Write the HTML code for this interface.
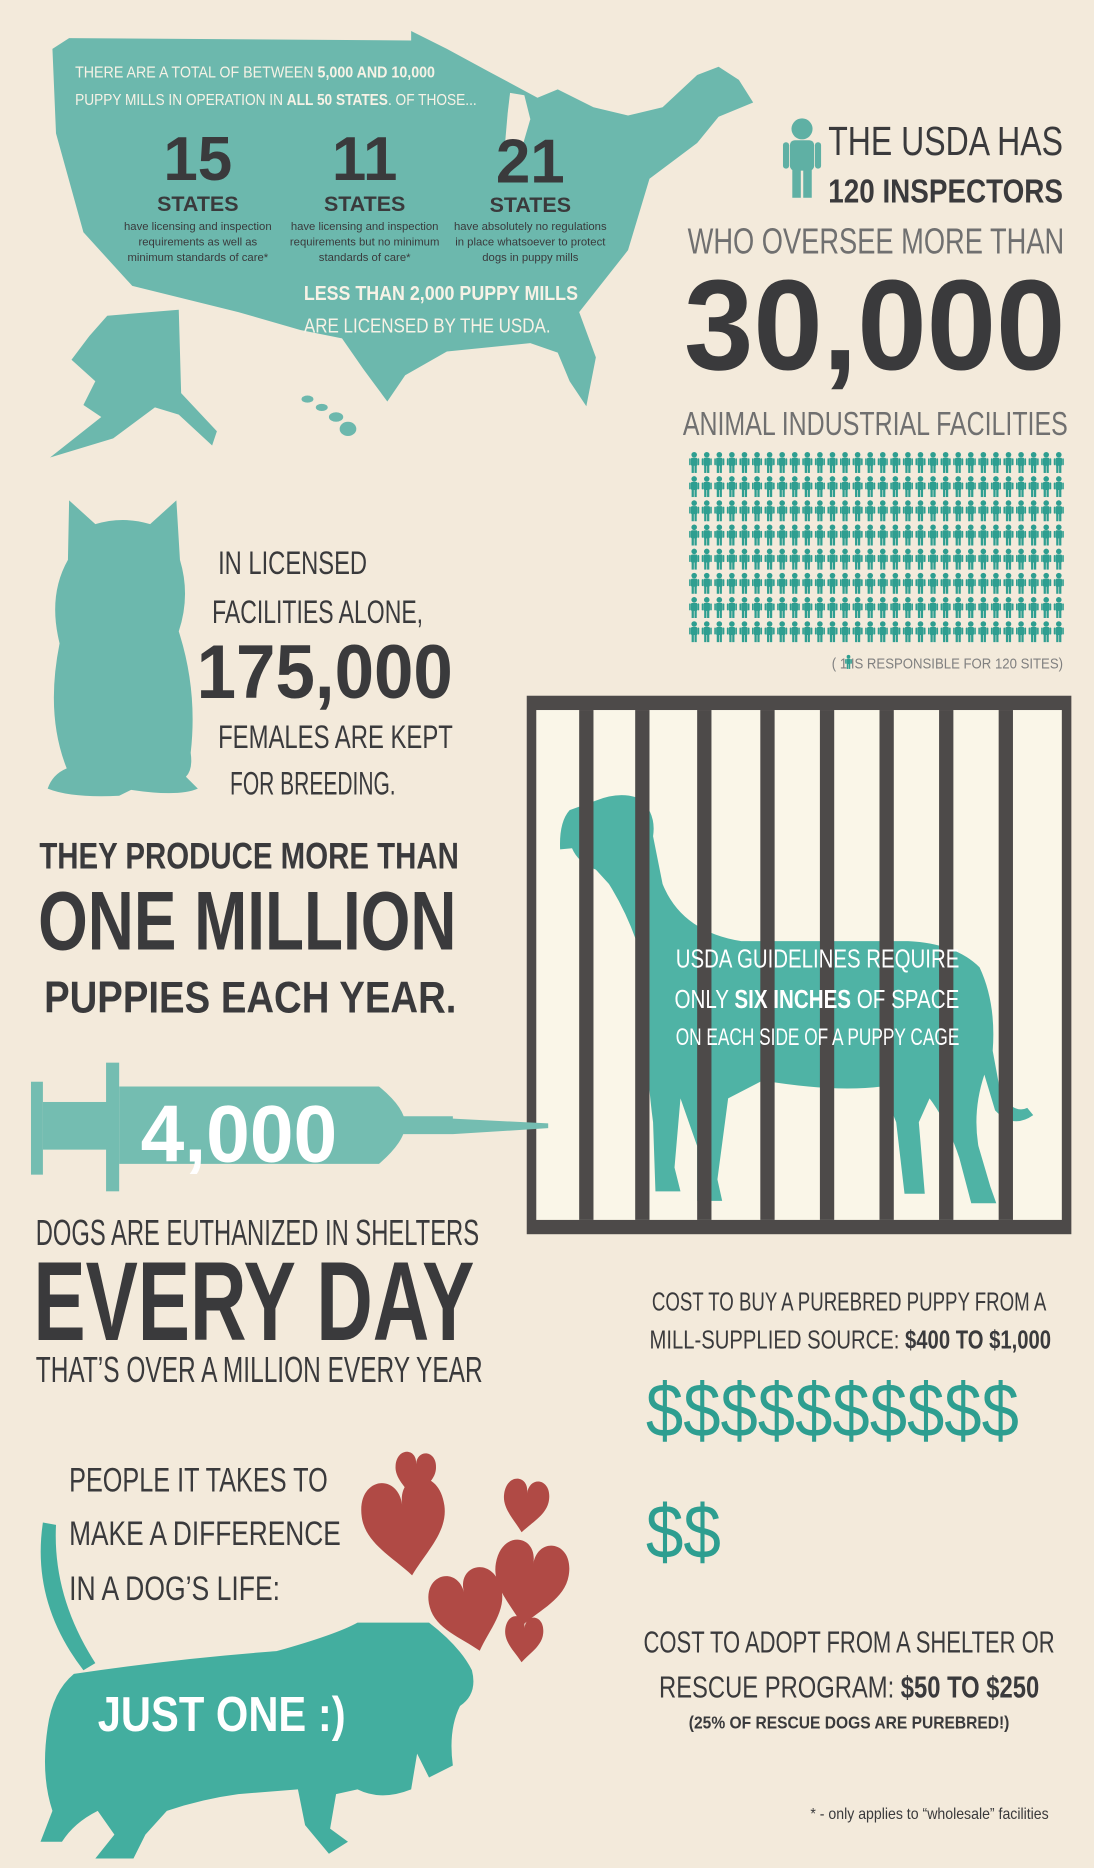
<!DOCTYPE html>
<html><head><meta charset="utf-8"><style>
html,body{margin:0;padding:0;background:#f3eadb;}
svg{display:block;}
text{font-family:"Liberation Sans Narrow","Liberation Sans",sans-serif;}
</style></head><body>
<svg width="1094" height="1868" viewBox="0 0 918 1568" preserveAspectRatio="none" xmlns="http://www.w3.org/2000/svg">
<defs>
<symbol id="person" viewBox="0 0 10 20">
<circle cx="5" cy="3" r="2.6"/>
<rect x="2" y="5.8" width="6" height="7.5" rx="1.2"/>
<rect x="0.3" y="6.3" width="1.5" height="6.5" rx="0.7"/>
<rect x="8.2" y="6.3" width="1.5" height="6.5" rx="0.7"/>
<rect x="2.6" y="12.5" width="2.1" height="7.5"/>
<rect x="5.3" y="12.5" width="2.1" height="7.5"/>
</symbol>
<path id="heart" d="M0.5,0.25 C0.5,-0.1 0,-0.1 0,0.32 C0,0.6 0.3,0.78 0.5,1 C0.7,0.78 1,0.6 1,0.32 C1,-0.1 0.5,-0.1 0.5,0.25Z"/>
</defs>
<rect x="0" y="0" width="918" height="1568" fill="#f3eadb"/>

<!-- Map -->
<g fill="#6cb8ad">
<path d="M44,41 L58,32 L345,34 L345,26 L375,41 L410,60 L451,82 L468,75 L498,90 L527,97 L556,90 L585,63 L603,56 L620,67 L632,86 L603,98 L585,120 L545,150 L527,210 L486,262 L500,300 L492,341 L478,320 L468,296 L445,288 L375,295 L340,315 L325,337 L305,310 L287,284 L252,277 L200,262 L111,240 L70,195 L47,112 Z"/>
<path d="M90,265 L150,260 L152,330 L182,362 L178,374 L150,348 L130,342 L95,368 L42,384 L85,350 L70,340 L80,320 L60,302 L75,282 Z"/>
<ellipse cx="258" cy="335" rx="5" ry="3"/><ellipse cx="270" cy="342" rx="5" ry="3"/><ellipse cx="282" cy="350" rx="6" ry="4"/><ellipse cx="292" cy="360" rx="7" ry="6"/>
</g>
<path d="M428,78 L440,80 L445,100 L438,124 L424,118 L426,95 Z" fill="#f3eadb"/>

<text x="63" y="65" font-size="13" fill="#f7f2e6" textLength="302" lengthAdjust="spacingAndGlyphs">THERE ARE A TOTAL OF BETWEEN <tspan font-weight="bold">5,000 AND 10,000</tspan></text>
<text x="63" y="88" font-size="13" fill="#f7f2e6" textLength="337" lengthAdjust="spacingAndGlyphs">PUPPY MILLS IN OPERATION IN <tspan font-weight="bold">ALL 50 STATES</tspan>. OF THOSE...</text>

<g fill="#3a3a3c" text-anchor="middle">
<text x="166" y="151" font-size="52" font-weight="bold">15</text>
<text x="166" y="177" font-size="18" font-weight="bold">STATES</text>
<text x="166" y="193" font-size="9.5">have licensing and inspection</text>
<text x="166" y="206" font-size="9.5">requirements as well as</text>
<text x="166" y="219" font-size="9.5">minimum standards of care*</text>
</g>
<g fill="#3a3a3c" text-anchor="middle">
<text x="306" y="151" font-size="52" font-weight="bold">11</text>
<text x="306" y="177" font-size="18" font-weight="bold">STATES</text>
<text x="306" y="193" font-size="9.5">have licensing and inspection</text>
<text x="306" y="206" font-size="9.5">requirements but no minimum</text>
<text x="306" y="219" font-size="9.5">standards of care*</text>
</g>
<g fill="#3a3a3c" text-anchor="middle">
<text x="445" y="153" font-size="52" font-weight="bold">21</text>
<text x="445" y="178" font-size="18" font-weight="bold">STATES</text>
<text x="445" y="193" font-size="9.5">have absolutely no regulations</text>
<text x="445" y="206" font-size="9.5">in place whatsoever to protect</text>
<text x="445" y="219" font-size="9.5">dogs in puppy mills</text>
</g>
<text x="255" y="252" font-size="17" font-weight="bold" fill="#f7f2e6" textLength="230" lengthAdjust="spacingAndGlyphs">LESS THAN 2,000 PUPPY MILLS</text>
<text x="255" y="279" font-size="17" fill="#f7f2e6" textLength="207" lengthAdjust="spacingAndGlyphs">ARE LICENSED BY THE USDA.</text>

<!-- USDA -->
<use href="#person" x="656" y="93" width="34" height="78" fill="#5fb0a4"/>
<text x="695" y="130" font-size="34" fill="#3a3a3c" textLength="197" lengthAdjust="spacingAndGlyphs">THE USDA HAS</text>
<text x="695" y="170" font-size="28" font-weight="bold" fill="#3a3a3c" textLength="197" lengthAdjust="spacingAndGlyphs">120 INSPECTORS</text>
<text x="577" y="213" font-size="30" fill="#707070" textLength="316" lengthAdjust="spacingAndGlyphs">WHO OVERSEE MORE THAN</text>
<text x="574" y="310" font-size="108" font-weight="bold" fill="#3a3a3c" textLength="320" lengthAdjust="spacingAndGlyphs">30,000</text>
<text x="573" y="365" font-size="28" fill="#707070" textLength="323" lengthAdjust="spacingAndGlyphs">ANIMAL INDUSTRIAL FACILITIES</text>
<g id="grid" fill="#2e9e90"></g>
<text x="698" y="561" font-size="12" fill="#808080" textLength="194" lengthAdjust="spacingAndGlyphs">( 1    IS RESPONSIBLE FOR 120 SITES)</text>
<use href="#person" x="709" y="549" width="6" height="13" fill="#2e9e90"/>

<!-- Cat -->
<path fill="#6cb8ad" d="M58,420 L80,440 Q103,433 126,440 L148,420 L151,470 Q160,500 150,530 Q166,580 160,632 Q162,646 156,652 L166,662 Q150,669 110,663 L100,668 Q60,670 40,662 Q44,650 56,645 Q38,600 50,540 Q40,500 57,470 Z"/>
<g fill="#3a3a3c">
<text x="183" y="482" font-size="27" textLength="125" lengthAdjust="spacingAndGlyphs">IN LICENSED</text>
<text x="178" y="523" font-size="27" textLength="177" lengthAdjust="spacingAndGlyphs">FACILITIES ALONE,</text>
<text x="165" y="586" font-size="64" font-weight="bold" textLength="215" lengthAdjust="spacingAndGlyphs">175,000</text>
<text x="183" y="628" font-size="27" textLength="197" lengthAdjust="spacingAndGlyphs">FEMALES ARE KEPT</text>
<text x="193" y="667" font-size="27" textLength="139" lengthAdjust="spacingAndGlyphs">FOR BREEDING.</text>
</g>
<g fill="#3a3a3c" font-weight="bold">
<text x="33" y="729" font-size="31" textLength="352" lengthAdjust="spacingAndGlyphs">THEY PRODUCE MORE THAN</text>
<text x="32" y="797" font-size="70" textLength="351" lengthAdjust="spacingAndGlyphs">ONE MILLION</text>
<text x="37" y="850" font-size="37" textLength="346" lengthAdjust="spacingAndGlyphs">PUPPIES EACH YEAR.</text>
</g>

<!-- Cage -->
<g>
<rect x="442" y="584" width="457" height="452" fill="#4d4a49"/>
<rect x="450" y="596" width="441" height="428" fill="#faf6e8"/>
<path fill="#4fb3a5" d="M478,680 L500,672 Q520,664 536,670 Q551,682 548,702 L556,742 Q572,782 622,790 L762,790 Q802,792 822,812 Q836,842 833,882 L840,920 Q852,935 862,930 L867,936 Q850,948 835,932 L826,902 Q816,932 821,962 L831,996 L836,1010 L815,1010 L805,972 Q795,942 780,922 L771,942 L776,1002 L759,1002 L752,942 L740,912 Q700,917 640,907 L611,922 L602,990 L606,1008 L585,1008 L585,962 L571,922 L566,980 L571,1000 L550,1000 L548,942 Q540,882 545,832 Q536,782 511,742 L500,730 Q485,724 480,712 L470,713 Q469,690 478,680 Z"/>
<g fill="#4d4a49">
<rect x="486" y="596" width="12" height="428"/><rect x="533" y="596" width="12" height="428"/><rect x="585" y="596" width="12" height="428"/><rect x="638" y="596" width="12" height="428"/><rect x="688" y="596" width="12" height="428"/><rect x="738" y="596" width="12" height="428"/><rect x="788" y="596" width="12" height="428"/><rect x="838" y="596" width="12" height="428"/>
</g>
</g>
<g fill="#ffffff">
<text x="567" y="812" font-size="22" textLength="238" lengthAdjust="spacingAndGlyphs">USDA GUIDELINES REQUIRE</text>
<text x="566" y="846" font-size="22" textLength="239" lengthAdjust="spacingAndGlyphs">ONLY <tspan font-weight="bold">SIX INCHES</tspan> OF SPACE</text>
<text x="567" y="877" font-size="20" textLength="238" lengthAdjust="spacingAndGlyphs">ON EACH SIDE OF A PUPPY CAGE</text>
</g>

<!-- Syringe -->
<g fill="#74bdb1">
<rect x="26" y="908" width="10" height="78"/>
<rect x="36" y="925" width="60" height="40"/>
<rect x="89" y="892" width="11" height="108"/>
<path d="M100,912 L318,912 Q340,930 340,944 Q340,958 318,977 L100,977 Z"/>
<path d="M338,937 L380,937 L380,939 L460,943 L460,947 L380,952 L338,952 Z"/>
</g>
<text x="118" y="975" font-size="68" font-weight="bold" fill="#ffffff" textLength="165" lengthAdjust="spacingAndGlyphs">4,000</text>
<g fill="#3a3a3c">
<text x="30" y="1045" font-size="30" textLength="372" lengthAdjust="spacingAndGlyphs">DOGS ARE EUTHANIZED IN SHELTERS</text>
<text x="28" y="1125" font-size="94" font-weight="bold" textLength="370" lengthAdjust="spacingAndGlyphs">EVERY DAY</text>
<text x="30" y="1160" font-size="30" textLength="375" lengthAdjust="spacingAndGlyphs">THAT’S OVER A MILLION EVERY YEAR</text>
</g>

<!-- Cost -->
<g fill="#3a3a3c">
<text x="547" y="1100" font-size="22" textLength="331" lengthAdjust="spacingAndGlyphs">COST TO BUY A PUREBRED PUPPY FROM A</text>
<text x="545" y="1132" font-size="22" textLength="337" lengthAdjust="spacingAndGlyphs">MILL-SUPPLIED SOURCE: <tspan font-weight="bold">$400 TO $1,000</tspan></text>
</g>
<text x="542" y="1206" font-size="64" fill="#2e9e90" textLength="313" lengthAdjust="spacingAndGlyphs">$$$$$$$$$$</text>
<text x="542" y="1308" font-size="64" fill="#2e9e90" textLength="63" lengthAdjust="spacingAndGlyphs">$$</text>
<g fill="#3a3a3c">
<text x="540" y="1387" font-size="26" textLength="345" lengthAdjust="spacingAndGlyphs">COST TO ADOPT FROM A SHELTER OR</text>
<text x="553" y="1425" font-size="26" textLength="319" lengthAdjust="spacingAndGlyphs">RESCUE PROGRAM: <tspan font-weight="bold">$50 TO $250</tspan></text>
<text x="578" y="1451" font-size="15" font-weight="bold" textLength="269" lengthAdjust="spacingAndGlyphs">(25% OF RESCUE DOGS ARE PUREBRED!)</text>
</g>
<text x="680" y="1527" font-size="13" fill="#3a3a3c" textLength="200" lengthAdjust="spacingAndGlyphs">* - only applies to “wholesale” facilities</text>

<!-- Bottom left -->
<g fill="#3a3a3c">
<text x="58" y="1252" font-size="29" textLength="217" lengthAdjust="spacingAndGlyphs">PEOPLE IT TAKES TO</text>
<text x="58" y="1297" font-size="29" textLength="228" lengthAdjust="spacingAndGlyphs">MAKE A DIFFERENCE</text>
<text x="58" y="1343" font-size="29" textLength="177" lengthAdjust="spacingAndGlyphs">IN A DOG’S LIFE:</text>
</g>
<g fill="#43ae9f">
<path d="M36,1278 Q26,1345 70,1402 L80,1396 Q44,1340 47,1280 Z"/>
<path d="M62,1405 Q150,1392 232,1386 Q282,1372 300,1362 L360,1362 Q386,1382 396,1402 Q401,1422 386,1432 Q376,1452 380,1482 L360,1492 L350,1472 L345,1502 Q320,1512 300,1502 L282,1506 L277,1535 L292,1546 L276,1556 L256,1532 L250,1502 L200,1506 Q170,1510 140,1520 L122,1540 L112,1560 L80,1560 L96,1540 L82,1520 Q62,1530 52,1546 L34,1546 L44,1520 Q34,1490 40,1450 Q44,1420 62,1405 Z"/>
</g>
<text x="82" y="1453" font-size="41" font-weight="bold" fill="#ffffff" textLength="208" lengthAdjust="spacingAndGlyphs">JUST ONE :)</text>
<g fill="#b04a45">
<use href="#heart" transform="translate(300,1248) rotate(-8) scale(70,80)"/>
<use href="#heart" transform="translate(333,1218) rotate(5) scale(34,38)"/>
<use href="#heart" transform="translate(425,1240) rotate(8) scale(38,44)"/>
<use href="#heart" transform="translate(420,1290) rotate(10) scale(62,70)"/>
<use href="#heart" transform="translate(355,1328) rotate(-15) scale(62,68)"/>
<use href="#heart" transform="translate(425,1356) rotate(5) scale(32,38)"/>
</g>
</svg>
<script>
const gridCols = 30;
const gridRows = 8;
const g = document.getElementById('grid');
for (let r = 0; r < gridRows; r++) {
  for (let c = 0; c < gridCols; c++) {
    const u = document.createElementNS('http://www.w3.org/2000/svg', 'use');
    u.setAttribute('href', '#person');
    u.setAttribute('x', 578 + c * 10.55);
    u.setAttribute('y', 379 + r * 20.3);
    u.setAttribute('width', 9);
    u.setAttribute('height', 18);
    
    
    g.appendChild(u);
  }
}
</script>
</body></html>
